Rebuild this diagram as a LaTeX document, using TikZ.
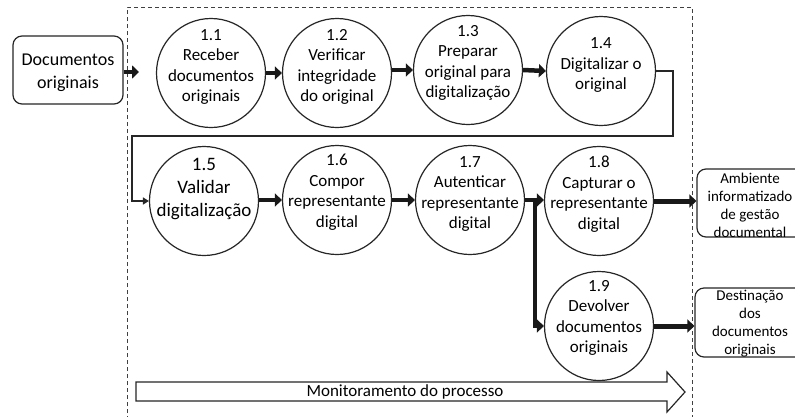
\documentclass[tikz,border=0pt]{standalone}
\usepackage{fontspec}
\setmainfont{Carlito}
\usetikzlibrary{arrows.meta}
\begin{document}
\begin{tikzpicture}[x=1pt,y=-1pt,
  proc/.style={draw=black!85,line width=1.2pt,circle,minimum size=109pt,inner sep=0pt},
  ptext/.style={align=center,font=\fontsize{17}{20.5}\selectfont,inner sep=0pt},
  bigtext/.style={align=center,font=\fontsize{19}{23}\selectfont,inner sep=0pt},
  doctext/.style={align=center,font=\fontsize{18}{23}\selectfont,inner sep=0pt},
  extbox/.style={draw=black!85,line width=1.2pt,rounded corners=9pt,inner sep=0pt},
  smalltext/.style={align=center,font=\fontsize{15}{18}\selectfont,inner sep=0pt},
  fat/.style={line width=4.5pt,black!90,-{Triangle[length=7pt,width=13pt]}},
  fatline/.style={line width=4.5pt,black!90},
  thin/.style={line width=1.8pt,black!85,-{Triangle[length=6pt,width=7pt]}},
  frame/.style={line width=0.9pt,black!75,dash pattern=on 4pt off 3pt}]
\useasboundingbox (0,0) rectangle (795,416);
\clip (0,0) rectangle (795,416);
\fill[white] (0,0) rectangle (795,416);

% dashed frame
\draw[frame] (127,420) -- (127,7) -- (692,7) -- (692,420);

% external boxes
\node[extbox,minimum width=110pt,minimum height=68pt] (doc) at (68,70) {};
\node[doctext] (doctxt) at (68,73) {Documentos\\originais};

\node[extbox,minimum width=110pt,minimum height=68pt] (amb) at (752,203) {};
\node[smalltext] (ambtxt) at (750,205) {Ambiente\\informatizado\\de gestão\\documental};

\node[extbox,minimum width=110pt,minimum height=69pt] (dest) at (750,322.5) {};
\node[smalltext] (desttxt) at (750,324) {Destinação\\dos\\documentos\\originais};

% process circles row 1
\node[proc] (p11) at (211,73) {};
\node[proc] (p12) at (337,73) {};
\node[proc] (p13) at (468,70) {};
\node[proc] (p14) at (601,71) {};
\node[ptext] (t11) at ([yshift=6pt]p11.center) {1.1\\Receber\\documentos\\originais};
\node[ptext] (t12) at ([yshift=6pt]p12.center) {1.2\\Verificar\\integridade\\do original};
\node[ptext] (t13) at ([yshift=7pt]p13.center) {1.3\\Preparar\\original para\\digitalização};
\node[ptext] (t14) at ([yshift=6pt]p14.center) {1.4\\Digitalizar o\\original};

% row 2
\node[proc] (p15) at (204,201) {};
\node[proc] (p16) at (337,200) {};
\node[proc] (p17) at (470,200) {};
\node[proc] (p18) at (599,201) {};
\node[proc] (p19) at (599,326) {};
\node[bigtext] (t15) at ([yshift=12pt]p15.center) {1.5\\Validar\\digitalização};
\node[ptext] (t16) at ([yshift=8pt]p16.center) {1.6\\Compor\\representante\\digital};
\node[ptext] (t17) at ([yshift=6pt]p17.center) {1.7\\Autenticar\\representante\\digital};
\node[ptext] (t18) at ([yshift=7pt]p18.center) {1.8\\Capturar o\\representante\\digital};
\node[ptext] (t19) at ([yshift=8pt]p19.center) {1.9\\Devolver\\documentos\\originais};

% connectors row 1
\coordinate (a0) at (139,72);
\draw[fat] (doc.east |- a0) -- (a0);
\draw[fat] (p11.east) -- (p12.west);
\draw[fat] (p12.east |- p13.west) -- (p13.west);
\draw[fat] (p13.east) -- (p14.west);

% loop connector
\coordinate (l1) at (673,71);
\coordinate (l2) at (673,136);
\coordinate (l3) at (132,136);
\coordinate (l4) at (132,201);
\draw[thin] (p14.east) -- (l1) -- (l2) -- (l3) -- (l4) -- (p15.west);

% row 2 connectors
\draw[fat] (p15.east |- p16.west) -- (p16.west);
\draw[fat] (p16.east) -- (p17.west);
\coordinate (br) at (535,200);
\draw[fatline] (p17.east) -- (br);
\draw[fat] (br) -- (p18.west |- br);
\draw[fat,line join=miter] ([yshift=-2pt]br) |- (p19.west);

% outputs
\draw[fat,line width=5pt] (p18.east) -- (amb.west |- p18.east);
\draw[fat,line width=5pt] (p19.east) -- (dest.west |- p19.east);

% monitoring arrow
\draw[line width=1.2pt,black!85,fill=white,line join=miter]
  (136,382) -- (667,382) -- (667,372) -- (685,392) -- (667,412) -- (667,401) -- (136,401) -- cycle;
\node[ptext] (mon) at (405,392) {Monitoramento do processo};
\end{tikzpicture}
\end{document}
